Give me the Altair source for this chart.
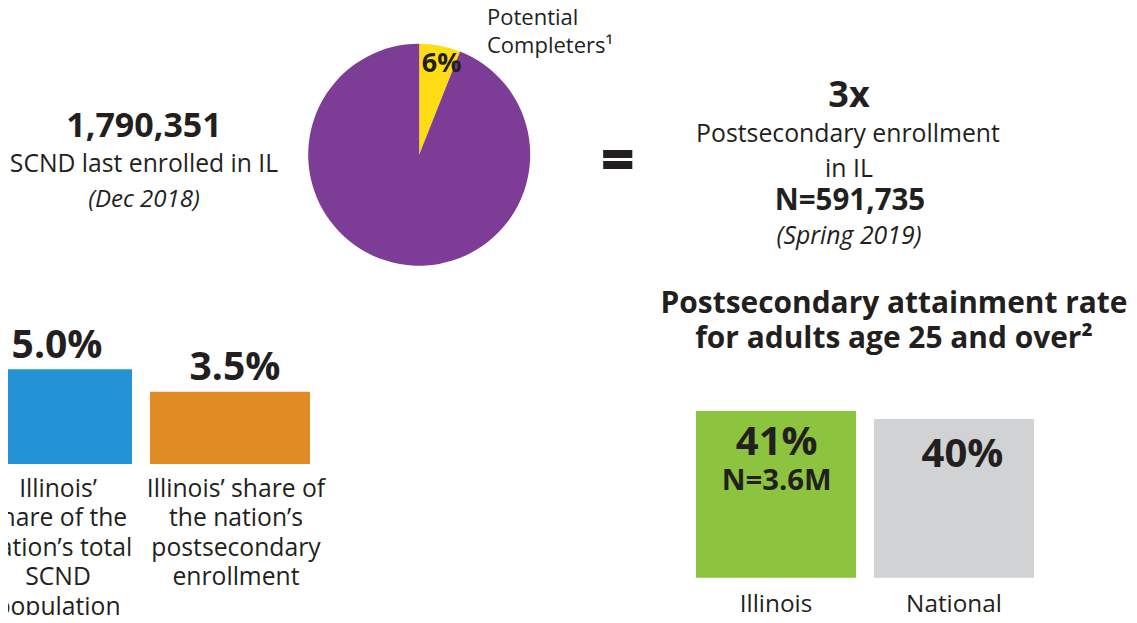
import altair as alt
import pandas as pd

FONT = "Open Sans"
INK = "#231F20"
OFF = 8


def P(v):
    return v - OFF


# ---------------- data ----------------
pie_categories = ["Potential Completers", "Other SCND last enrolled in IL"]
pie_values = [6, 94]
pie_value_label = "6%"
pie_note = ["Potential", "Completers¹"]

headline_left = ["1,790,351", "SCND last enrolled in IL", "(Dec 2018)"]
equals_sign = "="
headline_right = ["3x", "Postsecondary enrollment", "in IL", "N=591,735", "(Spring 2019)"]

left_categories = ["SCND population share", "Postsecondary enrollment share"]
left_values = [5.0, 3.5]
left_value_labels = ["5.0%", "3.5%"]
left_captions = [
    ["Illinois’", "share of the", "nation’s total", "SCND", "population"],
    ["Illinois’ share of", "the nation’s", "postsecondary", "enrollment"],
]

attain_title = ["Postsecondary attainment rate", "for adults age 25 and over²"]
right_categories = ["Illinois", "National"]
right_values = [41, 40]
right_value_labels = ["41%", "40%"]
right_n_label = "N=3.6M"

PIE_COLORS = ["#FFDD15", "#7D3C96"]
LEFT_COLORS = ["#2493D5", "#E18B25"]
RIGHT_COLORS = ["#8CC43F", "#D1D2D4"]

one = pd.DataFrame({"k": [0]})


def label(lines, x, y, size, weight="normal", style="normal", align="center", lh=None, **kw):
    mk = dict(align=align, baseline="alphabetic", font=FONT, fontSize=size,
              fontWeight=weight, fontStyle=style, color=INK, **kw)
    if lh is not None:
        mk["lineHeight"] = lh
    return alt.Chart(one).mark_text(**mk).encode(
        x=alt.value(P(x)), y=alt.value(P(y)), text=alt.value(lines)
    )


# ---------------- pie ----------------
pie_df = pd.DataFrame({"cat": pie_categories, "value": pie_values})
pie = alt.Chart(pie_df).mark_arc(outerRadius=111).encode(
    theta=alt.Theta("value:Q", stack=True),
    color=alt.Color("cat:N", scale=alt.Scale(domain=pie_categories, range=PIE_COLORS), legend=None),
    order=alt.Order("value:Q", sort="ascending"),
    x=alt.value(P(419.2)),
    y=alt.value(P(154.7)),
)

# ---------------- left bars ----------------
left_df = pd.DataFrame({
    "cat": left_categories,
    "value": left_values,
    "label": left_value_labels,
    "caption": left_captions,
})
lx = alt.X("cat:N", sort=left_categories,
           scale=alt.Scale(domain=left_categories, range=[P(-28), P(310)], paddingInner=0.101, paddingOuter=0),
           axis=None)
ly = alt.Y("value:Q", stack=None,
           scale=alt.Scale(domain=[-1.34, 5.0], range=[P(464), P(369.3)], zero=False, nice=False),
           axis=None)
left_base = alt.Chart(left_df)
left_bars = left_base.mark_bar().encode(
    x=lx, y=ly, y2=alt.value(P(464)),
    color=alt.Color("cat:N", scale=alt.Scale(domain=left_categories, range=LEFT_COLORS), legend=None),
)
left_vals = left_base.mark_text(align="center", baseline="alphabetic", font=FONT, fontSize=39,
                                fontWeight="bold", color=INK, dy=-11.5, dx=5).encode(
    x=lx, y=ly, text="label:N")
left_caps = left_base.mark_text(align="center", baseline="alphabetic", font=FONT, fontSize=24.7,
                                color=INK, dx=6, lineHeight=29.5).encode(
    x=lx, y=alt.value(P(496.7)), text="caption:N")
left_group = alt.layer(left_bars, left_vals, left_caps)

# ---------------- right bars ----------------
right_df = pd.DataFrame({
    "cat": right_categories,
    "value": right_values,
    "label": right_value_labels,
})
rx = alt.X("cat:N", sort=right_categories,
           scale=alt.Scale(domain=right_categories, range=[P(696), P(1034)], paddingInner=0.101, paddingOuter=0),
           axis=None)
ry = alt.Y("value:Q", stack=None,
           scale=alt.Scale(domain=[20.16, 41.0], range=[P(577.7), P(411)], zero=False, nice=False),
           axis=None)
right_base = alt.Chart(right_df)
right_bars = right_base.mark_bar().encode(
    x=rx, y=ry, y2=alt.value(P(577.7)),
    color=alt.Color("cat:N", scale=alt.Scale(domain=right_categories, range=RIGHT_COLORS), legend=None),
)
right_val_il = right_base.transform_filter(alt.datum.cat == right_categories[0]).mark_text(
    align="center", baseline="alphabetic", font=FONT, fontSize=40, fontWeight="bold", color=INK,
    dy=44, dx=0.7).encode(x=rx, y=ry, text="label:N")
right_n_il = right_base.transform_filter(alt.datum.cat == right_categories[0]).mark_text(
    align="center", baseline="alphabetic", font=FONT, fontSize=29.3, fontWeight="bold", color=INK,
    dy=79, dx=0.7).encode(x=rx, y=ry, text=alt.value(right_n_label))
right_val_nat = right_base.transform_filter(alt.datum.cat == right_categories[1]).mark_text(
    align="center", baseline="alphabetic", font=FONT, fontSize=40, fontWeight="bold", color=INK,
    dy=47.7, dx=8.5).encode(x=rx, y=ry, text="label:N")
right_names = right_base.mark_text(align="center", baseline="alphabetic", font=FONT, fontSize=24.3,
                                   color=INK).encode(x=rx, y=alt.value(P(612)), text="cat:N")
right_group = alt.layer(right_bars, right_val_il, right_n_il, right_val_nat, right_names)

# ---------------- annotations ----------------
texts = [
    label(pie_note, 487, 25, 22, align="left", lh=28.3),
    label(pie_value_label, 441.7, 71.7, 27, weight="bold"),
    label(headline_left[0], 144, 136.7, 34, weight="bold"),
    label(headline_left[1], 144, 171.7, 24.7),
    label(headline_left[2], 144, 207, 24, style="italic"),
    label(equals_sign, 617.7, 179, 56, weight="bold", stroke=INK, strokeWidth=2),
    label(headline_right[0], 849, 106.7, 36, weight="bold"),
    label(headline_right[1], 848, 142, 24.8),
    label(headline_right[2], 849, 176.5, 24.8),
    label(headline_right[3], 850, 210, 29.5, weight="bold"),
    label(headline_right[4], 849, 244, 24.8, style="italic"),
    label(attain_title, 894, 313.3, 29.9, weight="bold", lh=34.5),
]

chart = alt.layer(pie, left_group, right_group, *texts).resolve_scale(
    x="independent", y="independent", color="independent", theta="independent"
).properties(
    width=1121, height=607, autosize=alt.AutoSizeParams(type="none"), padding=0
).configure_view(stroke=None)

chart.save("out.html", embed_options={"renderer": "svg", "actions": False})
